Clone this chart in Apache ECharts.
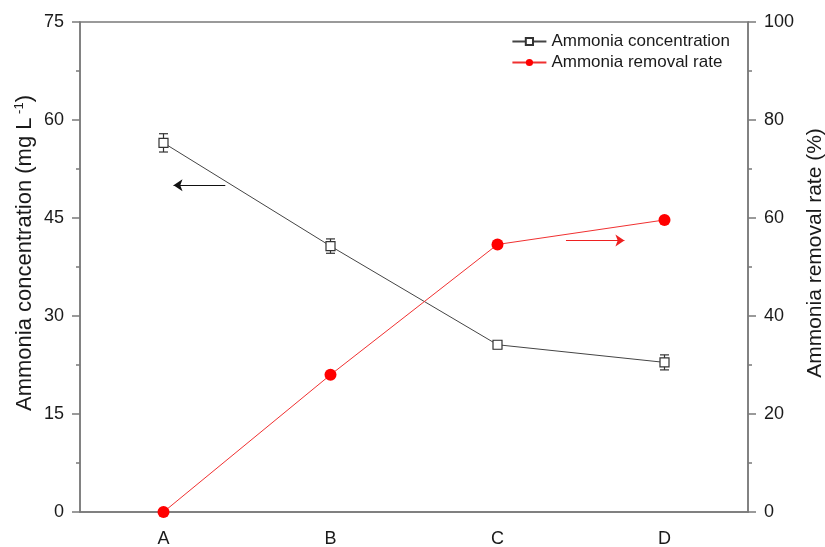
<!DOCTYPE html>
<html>
<head>
<meta charset="utf-8">
<script src="https://cdn.jsdelivr.net/npm/echarts@6/dist/echarts.min.js"></script>
<style>
  html, body { margin: 0; padding: 0; background: #fff; overflow: hidden; }
  #chart { width: 825px; height: 547px; }
</style>
</head>
<body>
<div id="chart"></div>
<script>
const categories = ['A', 'B', 'C', 'D'];
const concentration = [56.5, 40.7, 25.6, 22.9];
const concentrationErr = [1.4, 1.1, 0.6, 1.15];
const removalRate = [0, 28.0, 54.6, 59.6];
// arrows: [x start, x end] on a hidden value axis (category index units), y in axis units
const leftArrowX = [0.37, 0.06];
const leftArrowY = 50.0;
const rightArrowX = [2.41, 2.76];
const rightArrowY = 55.4;

const font = 'Liberation Sans, Arial, sans-serif';
const axisGray = '#7a7a7a';
const textColor = '#1a1a1a';

const chart = echarts.init(document.getElementById('chart'));

const option = {
  animation: false,
  grid: {
    left: 80, right: 77, top: 22, bottom: 35,
    outerBoundsMode: 'none',
    containLabel: false,
    show: true, borderColor: axisGray, borderWidth: 1.5,
  },
  legend: {
    data: ['Ammonia concentration', 'Ammonia removal rate'],
    orient: 'vertical',
    right: 90,
    top: 28,
    itemWidth: 34,
    itemHeight: 9,
    itemGap: 4,
    textStyle: { fontFamily: font, fontSize: 17, color: textColor },
  },
  xAxis: [
    {
      type: 'category',
      data: categories,
      position: 'bottom',
      axisLine: { onZero: false, lineStyle: { color: axisGray, width: 1.5 } },
      axisTick: { alignWithLabel: true, length: 7, lineStyle: { color: axisGray, width: 1.5 } },
      axisLabel: { margin: 18, fontFamily: font, fontSize: 18, color: textColor },
    },
    {
      type: 'category',
      data: categories,
      position: 'bottom',
      axisLine: { show: false, onZero: false },
      axisTick: { length: 4, lineStyle: { color: axisGray, width: 1.5 } },
      axisLabel: { show: false },
    },
    {
      type: 'value',
      min: -0.5,
      max: 3.5,
      show: false,
      axisLine: { onZero: false },
    },
  ],
  yAxis: [
    {
      type: 'value',
      min: 0, max: 75, interval: 15,
      name: 'Ammonia concentration (mg L{sup| -1})',
      nameLocation: 'middle',
      nameGap: 44,
      nameMoveOverlap: false,
      nameTextStyle: {
        fontFamily: font, fontSize: 22, color: textColor,
        padding: [0, 0, 0, 28],
        rich: { sup: { fontFamily: font, fontSize: 13, color: textColor, verticalAlign: 'top', padding: [0, 0, 10, 0] } },
      },
      axisLine: { show: true, onZero: false, lineStyle: { color: axisGray, width: 1.5 } },
      axisTick: { show: true, length: 8, lineStyle: { color: axisGray, width: 1.5 } },
      minorTick: { show: true, splitNumber: 2, length: 4, lineStyle: { color: axisGray, width: 1.5 } },
      splitLine: { show: false },
      axisLabel: { margin: 16, fontFamily: font, fontSize: 18, color: textColor },
    },
    {
      type: 'value',
      min: 0, max: 100, interval: 20,
      name: 'Ammonia removal rate (%)',
      nameLocation: 'middle',
      nameGap: 56,
      nameRotate: 90,
      nameTextStyle: { fontFamily: font, fontSize: 21, color: textColor, padding: [0, 0, 0, 28] },
      axisLine: { show: true, onZero: false, lineStyle: { color: axisGray, width: 1.5 } },
      axisTick: { show: true, length: 8, lineStyle: { color: axisGray, width: 1.5 } },
      minorTick: { show: true, splitNumber: 2, length: 4, lineStyle: { color: axisGray, width: 1.5 } },
      splitLine: { show: false },
      axisLabel: { margin: 16, fontFamily: font, fontSize: 18, color: textColor },
    },
  ],
  series: [
    {
      name: 'Ammonia concentration',
      type: 'line',
      data: concentration,
      symbol: 'rect',
      symbolSize: 9,
      showAllSymbol: true,
      lineStyle: { color: '#444', width: 1 },
      itemStyle: { color: '#fff', borderColor: '#333', borderWidth: 1.2 },
      z: 4,
    },
    {
      name: 'errorbars',
      type: 'custom',
      data: concentration.map((v, i) => [i, v - concentrationErr[i], v + concentrationErr[i]]),
      renderItem(params, api) {
        const lo = api.coord([api.value(0), api.value(1)]);
        const hi = api.coord([api.value(0), api.value(2)]);
        const w = 4.5;
        const style = { stroke: '#333', lineWidth: 1.2 };
        return {
          type: 'group',
          children: [
            { type: 'line', shape: { x1: lo[0], y1: lo[1], x2: hi[0], y2: hi[1] }, style },
            { type: 'line', shape: { x1: lo[0] - w, y1: lo[1], x2: lo[0] + w, y2: lo[1] }, style },
            { type: 'line', shape: { x1: hi[0] - w, y1: hi[1], x2: hi[0] + w, y2: hi[1] }, style },
          ],
        };
      },
      z: 3,
    },
    {
      name: 'Ammonia removal rate',
      type: 'line',
      yAxisIndex: 1,
      data: removalRate,
      symbol: 'circle',
      symbolSize: 12,
      showAllSymbol: true,
      lineStyle: { color: '#f03030', width: 1 },
      itemStyle: { color: '#ff0000' },
      z: 5,
    },
    {
      name: 'leftArrow',
      type: 'lines',
      coordinateSystem: 'cartesian2d',
      xAxisIndex: 2,
      yAxisIndex: 0,
      symbol: ['none', 'arrow'],
      symbolSize: [0, 9],
      lineStyle: { color: '#111', width: 1.2, opacity: 1 },
      data: [{ coords: [[leftArrowX[0], leftArrowY], [leftArrowX[1], leftArrowY]] }],
    },
    {
      name: 'rightArrow',
      type: 'lines',
      coordinateSystem: 'cartesian2d',
      xAxisIndex: 2,
      yAxisIndex: 1,
      symbol: ['none', 'arrow'],
      symbolSize: [0, 9],
      lineStyle: { color: '#ee2020', width: 1.2, opacity: 1 },
      data: [{ coords: [[rightArrowX[0], rightArrowY], [rightArrowX[1], rightArrowY]] }],
    },
  ],
};

chart.setOption(option);
</script>
</body>
</html>
